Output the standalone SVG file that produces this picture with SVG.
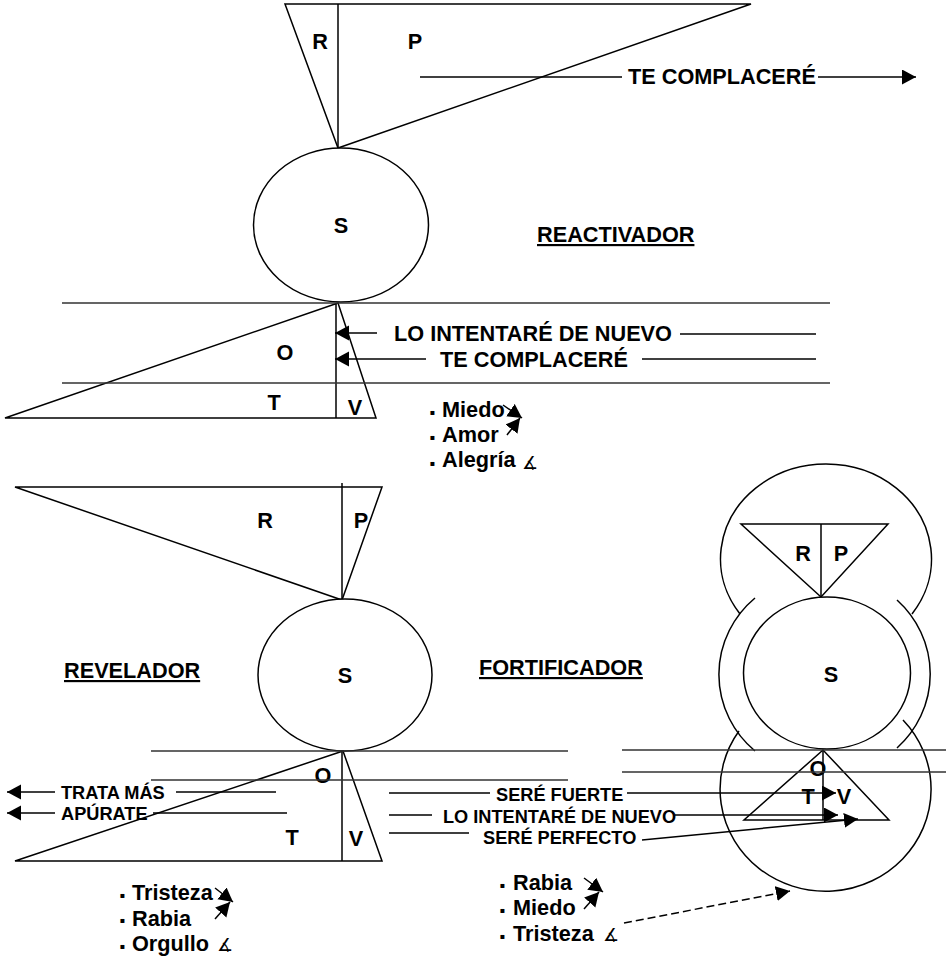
<svg xmlns="http://www.w3.org/2000/svg" width="946" height="958" viewBox="0 0 946 958">
<style>
text{font-family:"Liberation Sans",Arial,sans-serif;font-weight:700;fill:#000}
.big{font-size:21.7px}
.lab{font-size:21.7px}
.title{font-size:21.7px;text-decoration:underline}
.sm{font-size:18.2px}
.li{font-size:21.7px}
.m{text-anchor:middle}
.sym{font-family:"DejaVu Sans",sans-serif;font-weight:400;font-size:18px}
.bul{font-family:"DejaVu Sans",sans-serif;font-size:8px}
.s{fill:#fff;stroke:#000;stroke-width:1.5}
.n{fill:none;stroke:#000;stroke-width:1.5}
.g{fill:none;stroke:#333;stroke-width:1.5}
.a{fill:none;stroke:#000;stroke-width:1.5;marker-end:url(#h)}
.d{stroke-dasharray:8 4}
</style>
<defs>
<marker id="h" markerUnits="userSpaceOnUse" markerWidth="15" markerHeight="16" refX="14" refY="7.500" orient="auto"><path d="M0 0L14 7.500L0 15Z" fill="#000"/></marker>
</defs>
<g id="reactivador">
<g id="rp-top"><path class="s" d="M285 4H751L338 148Z"/><path class="n" d="M338 4V148"/><text class="big m" x="320" y="49">R</text><text class="big m" x="415" y="49">P</text></g>
<g id="s-top"><ellipse class="s" cx="341" cy="225" rx="87.500" ry="77"/><text class="big m" x="341" y="233">S</text></g>
<text id="t-reactivador" class="title" x="537" y="242">REACTIVADOR</text>
<g id="otv-top"><path class="s" d="M338 303L5 418H376Z"/><path class="n" d="M336 303V418"/><text class="big m" x="285" y="360">O</text><text class="big m" x="274" y="410">T</text><text class="big m" x="355" y="415">V</text></g>
<g id="list-top"><text class="bul" x="429.500" y="415">▪</text><text class="li" x="442" y="417">Miedo</text><text class="bul" x="429.500" y="440">▪</text><text class="li" x="442" y="442">Amor</text><text class="bul" x="429.500" y="466">▪</text><text class="li" x="442" y="467">Alegría</text><text class="sym" x="522" y="469">∡</text></g>
</g>
<g id="revelador">
<g id="rp-left"><path class="s" d="M15 487H382L342 600Z"/><path class="n" d="M342 483V600"/><text class="big m" x="265" y="528">R</text><text class="big m" x="361" y="528">P</text></g>
<g id="s-left"><ellipse class="s" cx="345" cy="675" rx="87" ry="76"/><text class="big m" x="345" y="683">S</text></g>
<text id="t-revelador" class="title" x="64" y="678">REVELADOR</text>
<g id="otv-left"><path class="s" d="M343 751L15 861H382Z"/><path class="n" d="M342 751V861"/><text class="big m" x="323" y="783">O</text><text class="big m" x="292" y="845">T</text><text class="big m" x="356" y="846">V</text></g>
<g id="list-left"><text class="bul" x="119.500" y="898">▪</text><text class="li" x="132" y="900">Tristeza</text><text class="bul" x="119.500" y="923">▪</text><text class="li" x="132" y="926">Rabia</text><text class="bul" x="119.500" y="949">▪</text><text class="li" x="132" y="951">Orgullo</text><text class="sym" x="217" y="951">∡</text></g>
</g>
<g id="fortificador">
<g id="outer-top"><path class="n" d="M740 614A105.500 95 0 1 1 912 614"/></g>
<g id="outer-mid"><path class="n" d="M755 598A104 101 0 0 0 755 751M897 600A104 101 0 0 1 897 748"/></g>
<g id="outer-bottom"><path class="n" d="M739 731A105.500 102 0 1 0 903 720"/></g>
<g id="rp-right"><path class="s" d="M741 524H888L821 597Z"/><path class="n" d="M821 524V597"/><text class="big m" x="803" y="561">R</text><text class="big m" x="841" y="561">P</text></g>
<g id="s-right"><ellipse class="s" cx="827" cy="673" rx="83.500" ry="76"/><text class="big m" x="831" y="682">S</text></g>
<text id="t-fortificador" class="title" x="479" y="675">FORTIFICADOR</text>
<g id="otv-right"><path class="n" d="M823 750L744 820H889Z"/><path class="n" d="M823 750V820"/><text class="big m" x="818" y="776">O</text><text class="big m" x="808" y="804">T</text><text class="big m" x="844" y="804">V</text></g>
<g id="list-right"><text class="bul" x="499.500" y="888">▪</text><text class="li" x="513" y="890">Rabia</text><text class="bul" x="499.500" y="913">▪</text><text class="li" x="513" y="915">Miedo</text><text class="bul" x="499.500" y="939">▪</text><text class="li" x="513" y="941">Tristeza</text><text class="sym" x="603" y="941">∡</text></g>
</g>
<g id="connectors">
<path class="n" d="M420 77H622"/>
<path class="a" d="M818 77H916"/>
<path class="g" d="M62 303H830M62 383H830M151 751H568M151 780H568M622 750H946M622 772H946"/>
<path class="a" d="M377 333H335"/><path class="n" d="M680 334H816"/>
<path class="a" d="M426 359H335"/><path class="n" d="M642 359H816"/>
<path class="a" d="M55 792H7"/><path class="n" d="M176 792H276"/>
<path class="a" d="M55 813H7"/><path class="n" d="M153 813H287"/>
<path class="n" d="M389 793H490M389 815H432M389 833H469"/>
<path class="a" d="M627 793H836"/>
<path class="a" d="M675 815H838"/>
<path class="a" d="M642 840L858 819"/>
<path class="a d" d="M624 923L790 891"/>
<path class="a" d="M503 405L522 418"/><path class="a" d="M507 435L520 418"/>
<path class="a" d="M215 888L233 902"/><path class="a" d="M215 919L230 902"/>
<path class="a" d="M584 878L603 892"/><path class="a" d="M584 909L599 892"/>
</g>
<g id="labels">
<text class="lab" x="628" y="84">TE COMPLACERÉ</text>
<text class="lab" x="394" y="341">LO INTENTARÉ DE NUEVO</text>
<text class="lab" x="440" y="367">TE COMPLACERÉ</text>
<text class="sm" x="61" y="799">TRATA MÁS</text>
<text class="sm" x="61" y="820">APÚRATE</text>
<text class="sm" x="496" y="801">SERÉ FUERTE</text>
<text class="sm" x="443" y="823">LO INTENTARÉ DE NUEVO</text>
<text class="sm" x="483" y="844">SERÉ PERFECTO</text>
</g>
</svg>
